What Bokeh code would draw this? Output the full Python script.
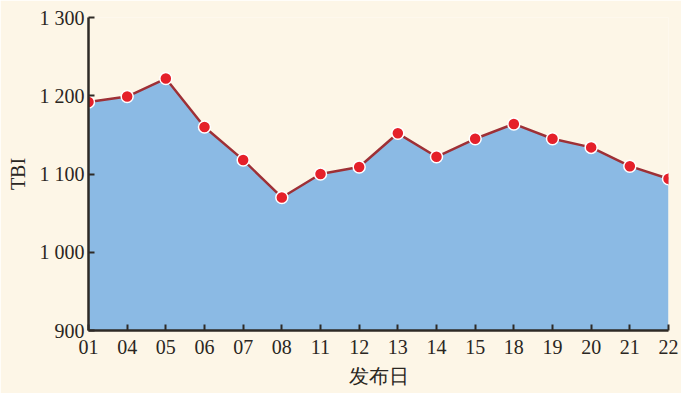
from bokeh.plotting import figure
from bokeh.models import FixedTicker, Range1d
from bokeh.embed import file_html
from bokeh.resources import INLINE

days = ["01", "04", "05", "06", "07", "08", "11", "12", "13", "14", "15", "18", "19", "20", "21", "22"]
tbi = [1192, 1199, 1222, 1160, 1118, 1070, 1100, 1109, 1152, 1122, 1145, 1164, 1145, 1134, 1110, 1094]
y_ticks = [900, 1000, 1100, 1200, 1300]
y_tick_labels = ["900", "1 000", "1 100", "1 200", "1 300"]
x_title = "发布日"
y_title = "TBI"

xs = list(range(len(days)))
bg = "#fdf6e7"
font = "Liberation Serif"
text_color = "#2a2622"

p = figure(width=681, height=393, output_backend="svg", toolbar_location=None,
           x_range=Range1d(0, len(days) - 1), y_range=Range1d(900, 1300),
           min_border_left=88, min_border_right=13, min_border_top=17, min_border_bottom=63)
p.background_fill_color = bg
p.border_fill_color = bg
p.outline_line_color = None
p.xgrid.grid_line_color = None
p.ygrid.grid_line_color = None

p.varea(x=xs, y1=[900] * len(xs), y2=tbi, fill_color="#8bbae4")
p.line(xs, tbi, line_color="#9e3036", line_width=2.5)
p.scatter(xs, tbi, size=12, fill_color="#e5202a", line_color="white", line_width=1.5)

axis_color = "#2e2a26"
for ax in (p.xaxis[0], p.yaxis[0]):
    ax.axis_line_color = axis_color
    ax.axis_line_width = 2.5
    ax.major_tick_line_color = axis_color
    ax.major_tick_line_width = 2
    ax.major_tick_in = 6
    ax.major_tick_out = 0
    ax.minor_tick_line_color = None
    ax.major_label_text_font = font
    ax.major_label_text_font_size = "20px"
    ax.major_label_text_color = text_color
    ax.axis_label_text_color = text_color
    ax.axis_label_text_font_style = "normal"
    ax.axis_label_text_font_size = "20px"
    ax.axis_label_text_font = font

p.xaxis.ticker = FixedTicker(ticks=xs)
p.xaxis.major_label_overrides = {i: d for i, d in enumerate(days)}
p.xaxis.major_label_standoff = 9
p.xaxis.axis_label = x_title
p.xaxis.axis_label_standoff = 8

p.yaxis.ticker = FixedTicker(ticks=y_ticks)
p.yaxis.major_label_overrides = {v: l for v, l in zip(y_ticks, y_tick_labels)}
p.yaxis.major_label_standoff = 4
p.yaxis.axis_label = y_title
p.yaxis.axis_label_standoff = 8

open("out.html", "w").write(file_html(p, INLINE))
